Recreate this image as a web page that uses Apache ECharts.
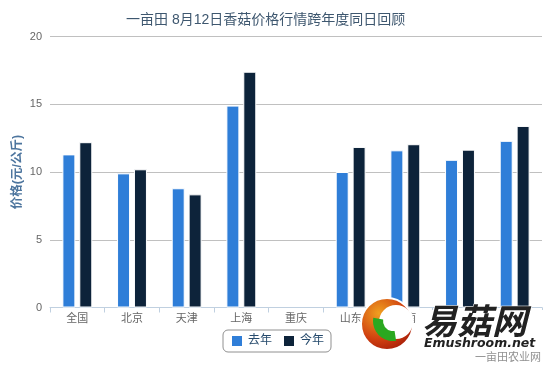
<!DOCTYPE html>
<html><head><meta charset="utf-8">
<script src="https://cdn.jsdelivr.net/npm/echarts@6/dist/echarts.min.js"></script>
<style>html,body{margin:0;padding:0;background:#fff}#c{width:550px;height:367px}</style>
</head><body><div id="c"></div>
<script>
var categories = ['全国','北京','天津','上海','重庆','山东','河南','湖北','广东'];
var lastYear = [11.3, 9.9, 8.8, 14.9, null, 10.0, 11.6, 10.9, 12.3];
var thisYear = [12.2, 10.2, 8.35, 17.4, null, 11.85, 12.05, 11.65, 13.4];
var seriesNames = ['去年','今年'];
var yTicks = [0, 5, 10, 15, 20];

var chart = echarts.init(document.getElementById('c'), null, {renderer:'canvas'});
var font = '"Liberation Sans", "Noto Sans CJK SC", sans-serif';
chart.setOption({
  animation: false,
  backgroundColor: '#fff',
  title: {
    text: '一亩田 8月12日香菇价格行情跨年度同日回顾',
    left: 121, top: 8,
    textStyle: {color: '#3E576F', fontSize: 14, fontWeight: 'normal', fontFamily: font}
  },
  legend: {
    data: seriesNames,
    left: 223, top: 330,
    width: 104, height: 22,
    padding: [4, 7, 4, 7],
    itemWidth: 12, itemHeight: 12, itemGap: 10,
    borderColor: '#909090', borderWidth: 1, borderRadius: 5,
    icon: 'rect',
    textStyle: {color: '#274b6d', fontSize: 12, fontFamily: font}
  },
  grid: {left: 50, right: 8, top: 36.5, bottom: 59.5},
  xAxis: {
    type: 'category', data: categories,
    axisLine: {lineStyle: {color: '#C0D0E0'}},
    axisTick: {show: true, length: 5, lineStyle: {color: '#C0D0E0'}},
    axisLabel: {color: '#666', fontSize: 11, margin: 6, fontFamily: font}
  },
  yAxis: {
    type: 'value', min: yTicks[0], max: yTicks[yTicks.length-1], interval: 5,
    name: '价格(元/公斤)', nameLocation: 'middle', nameGap: 26, nameRotate: 90,
    nameMoveOverlap: false,
    nameTextStyle: {color: '#4d759e', fontSize: 12.5, fontWeight: 'bold', fontFamily: font},
    axisLine: {show: false}, axisTick: {show: false},
    splitLine: {lineStyle: {color: '#C0C0C0'}},
    axisLabel: {color: '#666', fontSize: 11, margin: 8, fontFamily: font}
  },
  series: [
    {name: seriesNames[0], type: 'bar', data: lastYear, barWidth: 13, barGap: '30%',
     itemStyle: {color: '#2f7ed8', borderColor: '#ffffff', borderWidth: 1}},
    {name: seriesNames[1], type: 'bar', data: thisYear, barWidth: 13,
     itemStyle: {color: '#0d233a', borderColor: '#ffffff', borderWidth: 1}}
  ],
  graphic: [
    {type: 'rect', shape: {x: 416, y: 310, width: 128, height: 38}, z: 99, style: {fill: '#fff'}},
    {type: 'circle', shape: {cx: 387, cy: 324, r: 26}, z: 100,
     style: {fill: {type: 'radial', x: 0.35, y: 0.3, r: 0.8,
       colorStops: [{offset: 0, color: '#f0a020'}, {offset: 0.6, color: '#d04010'}, {offset: 1, color: '#a01808'}]},
       stroke: '#fff', lineWidth: 2}},
    {type: 'circle', shape: {cx: 396, cy: 322, r: 17}, z: 101, style: {fill: '#fff'}},
    {type: 'sector', shape: {cx: 393, cy: 321, r: 20, r0: 10, startAngle: Math.PI*0.45, endAngle: Math.PI*1.05}, z: 102,
     style: {fill: '#2aa820'}},
    {type: 'text', x: 422, y: 303, z: 103,
     style: {text: '易菇网', fontSize: 35, fontWeight: 'bold', fontStyle: 'italic', fill: '#222',
       stroke: '#fff', lineWidth: 1, fontFamily: '"Noto Sans CJK SC", sans-serif'}},
    {type: 'text', x: 424, y: 337, z: 103,
     style: {text: 'Emushroom.net', fontSize: 12.5, fontWeight: 'bold', fontStyle: 'italic', fill: '#222',
       fontFamily: '"DejaVu Sans", sans-serif'}},
    {type: 'text', right: 9, top: 352, z: 103,
     style: {text: '一亩田农业网', fontSize: 11, fill: '#909090', fontFamily: font}}
  ]
});
</script></body></html>
